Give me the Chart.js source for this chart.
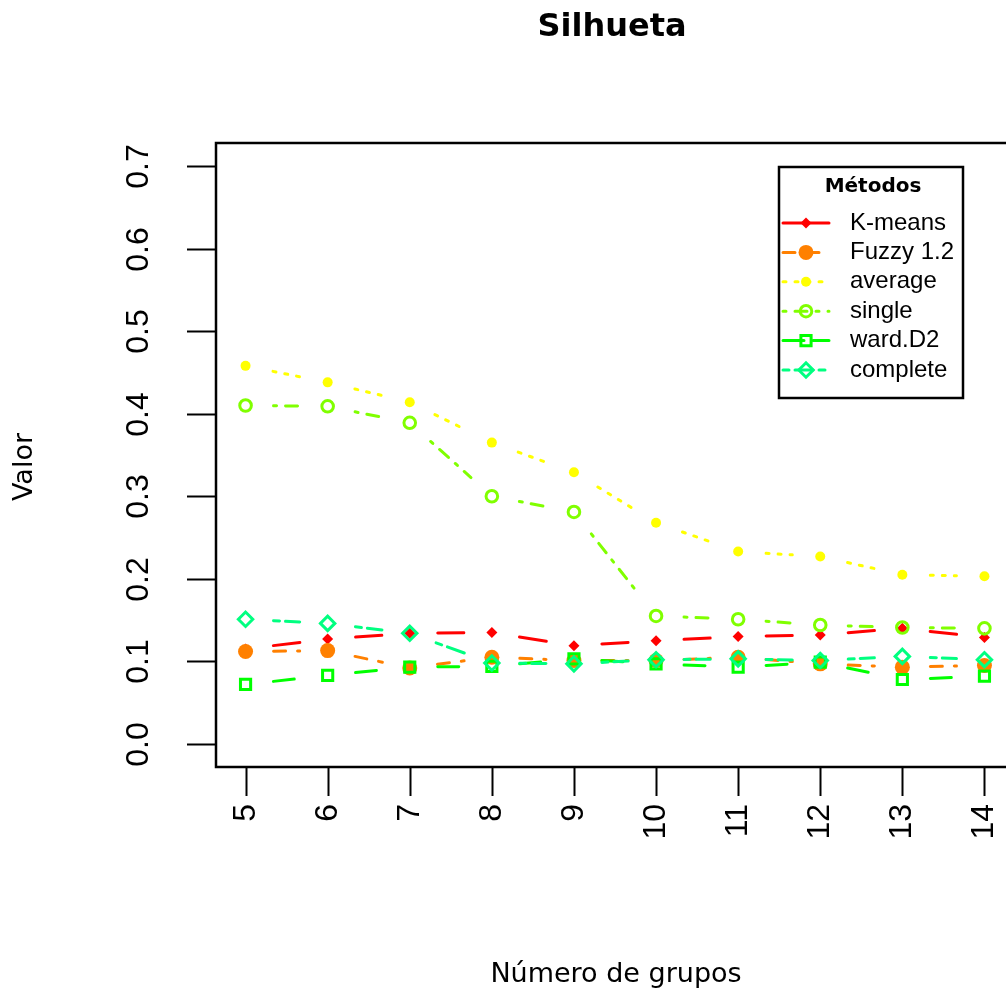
<!DOCTYPE html>
<html>
<head>
<meta charset="utf-8">
<title>Silhueta</title>
<script src="https://cdn.jsdelivr.net/npm/chart.js@4/dist/chart.umd.min.js"></script>
<style>
  html, body { margin: 0; padding: 0; background: #fff; overflow: hidden; }
  #wrap { width: 1030px; height: 994px; }
  canvas { display: block; }
</style>
</head>
<body>
<div id="wrap"><canvas id="silChart" width="1030" height="994"></canvas></div>
<script>
// Silhueta por número de grupos - estilo R base (type = "b")

var groups = [5, 6, 7, 8, 9, 10, 11, 12, 13, 14];
var yTicks = [0, 0.1, 0.2, 0.3, 0.4, 0.5, 0.6, 0.7];
var yTickLabels = ['0.0', '0.1', '0.2', '0.3', '0.4', '0.5', '0.6', '0.7'];

var methodNames = ['K-means', 'Fuzzy 1.2', 'average', 'single', 'ward.D2', 'complete'];
var kmeans   = [0.115, 0.127, 0.134, 0.135, 0.119, 0.125, 0.130, 0.132, 0.140, 0.129];
var fuzzy    = [0.112, 0.113, 0.092, 0.105, 0.101, 0.101, 0.105, 0.097, 0.093, 0.095];
var average  = [0.458, 0.438, 0.414, 0.365, 0.329, 0.268, 0.233, 0.227, 0.205, 0.203];
var single   = [0.410, 0.409, 0.389, 0.300, 0.281, 0.155, 0.151, 0.144, 0.141, 0.140];
var wardD2   = [0.072, 0.083, 0.093, 0.094, 0.103, 0.097, 0.093, 0.099, 0.078, 0.082];
var complete = [0.151, 0.146, 0.134, 0.098, 0.097, 0.102, 0.103, 0.101, 0.106, 0.102];

// styles (rainbow colours, lty 1:6, lwd 3)
var seriesColors = ['#ff0000', '#ff8000', '#ffff00', '#80ff00', '#00ff00', '#00ff80'];
var seriesDash = [[], [12, 12], [3, 9], [3, 9, 12, 9], [21, 9], [6, 6, 18, 6]];
var seriesMarker = [
  { style: 'rectRot', radius: 5.5, open: false },
  { style: 'circle', radius: 7.5, open: false },
  { style: 'circle', radius: 5, open: false },
  { style: 'circle', radius: 5.8, open: true },
  { style: 'rect', radius: 7.2, open: true },
  { style: 'rectRot', radius: 7.2, open: true }
];

var seriesValues = [kmeans, fuzzy, average, single, wardD2, complete];
var LINE_W = 3;
var GAP = 28;

function toPoints(values) {
  return groups.map(function(g, i) {
    return { x: g, y: values[i] };
  });
}

var datasets = seriesValues.map(function(values, i) {
  var m = seriesMarker[i];
  return {
    label: methodNames[i],
    data: toPoints(values),
    showLine: false,
    order: -i,
    pointStyle: m.style,
    pointRadius: m.radius,
    pointHoverRadius: m.radius,
    pointBorderWidth: m.open ? LINE_W : 0,
    pointBorderColor: seriesColors[i],
    pointBackgroundColor: m.open ? 'rgba(0,0,0,0)' : seriesColors[i],
    borderColor: seriesColors[i],
    backgroundColor: seriesColors[i]
  };
});

function drawMarker(ctx, i, x, y) {
  var m = seriesMarker[i];
  ctx.save();
  ctx.setLineDash([]);
  ctx.strokeStyle = seriesColors[i];
  ctx.fillStyle = m.open ? 'rgba(0,0,0,0)' : seriesColors[i];
  ctx.lineWidth = m.open ? LINE_W : 0;
  Chart.helpers.drawPoint(ctx, {
    pointStyle: m.style,
    radius: m.radius,
    rotation: 0,
    borderWidth: m.open ? LINE_W : 0
  }, x, y);
  ctx.restore();
}

var rBasePlugin = {
  id: 'rBase',
  // lines between points with gaps (type = "b"), drawn just before each series' markers
  beforeDatasetDraw: function(chart, args) {
    var i = args.index;
    var pts = args.meta.data;
    var ctx = chart.ctx;
    ctx.save();
    ctx.strokeStyle = seriesColors[i];
    ctx.lineWidth = LINE_W;
    ctx.lineCap = 'round';
    for (var k = 0; k < pts.length - 1; k++) {
      var a = pts[k], b = pts[k + 1];
      var dx = b.x - a.x, dy = b.y - a.y;
      var len = Math.sqrt(dx * dx + dy * dy);
      if (len <= 2 * GAP) continue;
      var ux = dx / len, uy = dy / len;
      ctx.setLineDash(seriesDash[i]);
      ctx.lineDashOffset = 0;
      ctx.beginPath();
      ctx.moveTo(a.x + ux * GAP, a.y + uy * GAP);
      ctx.lineTo(b.x - ux * GAP, b.y - uy * GAP);
      ctx.stroke();
    }
    ctx.restore();
  },
  afterDraw: function(chart) {
    var ctx = chart.ctx;
    var area = chart.chartArea;
    var xs = chart.scales.x, ys = chart.scales.y;
    ctx.save();
    ctx.setLineDash([]);
    ctx.strokeStyle = '#000';
    ctx.fillStyle = '#000';
    ctx.lineCap = 'butt';

    // box
    ctx.lineWidth = 2.5;
    ctx.strokeRect(area.left, area.top, area.right - area.left, area.bottom - area.top);

    // y axis ticks + labels
    ctx.lineWidth = 2;
    ctx.font = '32px "Liberation Sans", Arial, sans-serif';
    yTicks.forEach(function(v, i) {
      var py = Math.round(ys.getPixelForValue(v)) + 0.5;
      ctx.beginPath();
      ctx.moveTo(area.left - 29, py);
      ctx.lineTo(area.left, py);
      ctx.stroke();
      ctx.save();
      ctx.translate(139, py);
      ctx.rotate(-Math.PI / 2);
      ctx.textAlign = 'center';
      ctx.textBaseline = 'middle';
      ctx.fillText(yTickLabels[i], 0, 0);
      ctx.restore();
    });

    // x axis ticks + labels (las = 2)
    ctx.font = '32px "Liberation Sans", Arial, sans-serif';
    groups.forEach(function(g) {
      var px = Math.round(xs.getPixelForValue(g)) + 0.5;
      ctx.beginPath();
      ctx.moveTo(px, area.bottom);
      ctx.lineTo(px, area.bottom + 29);
      ctx.stroke();
      ctx.save();
      ctx.translate(px, area.bottom + 37);
      ctx.rotate(-Math.PI / 2);
      ctx.textAlign = 'right';
      ctx.textBaseline = 'middle';
      ctx.fillText(String(g), 0, 0);
      ctx.restore();
    });

    // title and axis titles
    ctx.textAlign = 'center';
    ctx.textBaseline = 'middle';
    ctx.font = 'bold 32px "DejaVu Sans", sans-serif';
    ctx.fillText('Silhueta', 612, 28);
    ctx.font = '27px "DejaVu Sans", sans-serif';
    ctx.fillText('Número de grupos', 616, 975);
    ctx.save();
    ctx.translate(25, 467);
    ctx.rotate(-Math.PI / 2);
    ctx.fillText('Valor', 0, 0);
    ctx.restore();

    // legend
    var lx = 779, ly = 167, lw = 184, lh = 231;
    ctx.fillStyle = '#fff';
    ctx.fillRect(lx, ly, lw, lh);
    ctx.lineWidth = 2.5;
    ctx.strokeStyle = '#000';
    ctx.strokeRect(lx, ly, lw, lh);
    ctx.fillStyle = '#000';
    ctx.font = 'bold 20px "DejaVu Sans", sans-serif';
    ctx.fillText('Métodos', 873, 187);

    ctx.textAlign = 'left';
    ctx.font = '24px "Liberation Sans", Arial, sans-serif';
    methodNames.forEach(function(name, i) {
      var ry = 223 + i * 29.4;
      ctx.save();
      ctx.strokeStyle = seriesColors[i];
      ctx.lineWidth = LINE_W;
      ctx.lineCap = 'round';
      ctx.setLineDash(seriesDash[i]);
      ctx.beginPath();
      ctx.moveTo(783, ry);
      ctx.lineTo(829, ry);
      ctx.stroke();
      ctx.restore();
      drawMarker(ctx, i, 806, ry);
      ctx.fillStyle = '#000';
      ctx.fillText(name, 850, ry);
    });

    ctx.restore();
  }
};

var chart = new Chart(document.getElementById('silChart').getContext('2d'), {
  type: 'scatter',
  data: { datasets: datasets },
  options: {
    responsive: false,
    animation: false,
    devicePixelRatio: 1,
    events: [],
    layout: {
      padding: { left: 216, top: 143, right: 16, bottom: 227 }
    },
    plugins: {
      legend: { display: false },
      tooltip: { enabled: false },
      title: { display: false }
    },
    scales: {
      x: { type: 'linear', min: 4.64, max: 14.36, display: false },
      y: { type: 'linear', min: -0.028, max: 0.728, display: false }
    }
  },
  plugins: [rBasePlugin]
});
</script>
</body>
</html>
